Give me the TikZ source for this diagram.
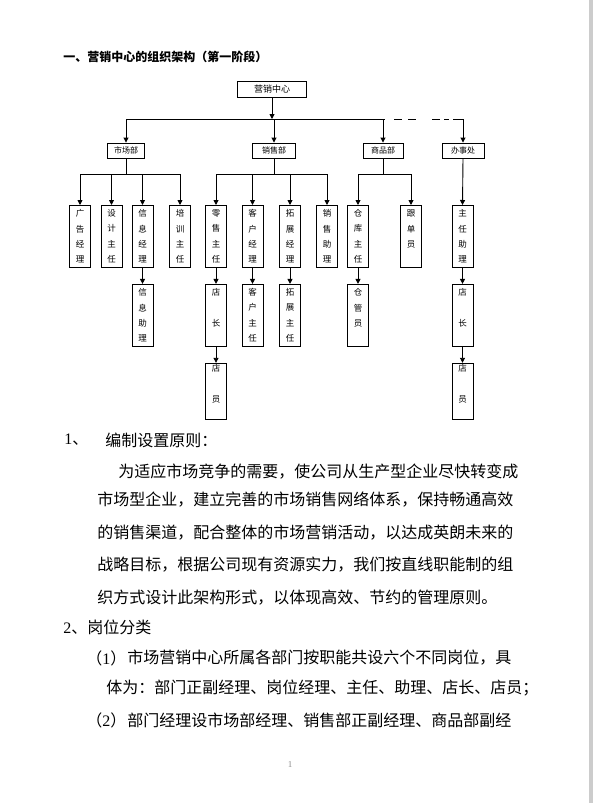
\documentclass[tikz,border=0pt]{standalone}
\usepackage{fontspec}
\setmainfont{Liberation Serif}
\newfontfamily\cjk{Noto Sans CJK SC}
\usetikzlibrary{arrows.meta, positioning}

\begin{document}
\begin{tikzpicture}[
        x=1pt, y=-1pt,
        line width=0.9pt,
        >={Triangle[length=5pt, width=5pt]},
        head/.style={rectangle, draw, minimum width=69pt, minimum height=16pt, inner sep=1pt, font=\cjk\fontsize{9}{10}\selectfont},
        dept/.style={rectangle, draw, minimum height=15pt, inner sep=1pt, font=\cjk\fontsize{8}{9}\selectfont},
        post/.style={rectangle, draw, anchor=north, minimum width=21pt, minimum height=62pt, inner sep=1pt, align=center, font=\cjk\fontsize{8.5}{15.4}\selectfont},
        shop/.style={post, minimum height=56pt},
        bodytext/.style={anchor=west, inner sep=0pt, font=\cjk\fontsize{16}{16}\selectfont}
    ]
    \useasboundingbox (0,0) rectangle (593,803);
    \fill[black!20] (589,0) rectangle (593,803);

    % Title
    \node[anchor=west, inner sep=0pt, font=\cjk\bfseries\fontsize{12}{12}\selectfont] (title) at (63,57) {一、营销中心的组织架构（第一阶段）};

    % Top and departments
    \node[head] (hub) at (272,89) {营销中心};
    \node[dept, minimum width=37pt] (mkt) at (126,150.5) {市场部};
    \node[dept, minimum width=43pt] (sales) at (274,150.5) {销售部};
    \node[dept, minimum width=40pt] (goods) at (383,150.5) {商品部};
    \node[dept, minimum width=42pt] (office) at (463,150.5) {办事处};

    \coordinate (bus) at (0,119);
    \coordinate (fork) at (0,174);

    \draw[->] (hub.south) -- (hub.south |- bus);
    \draw (mkt.north |- bus) -- (goods.north |- bus);
    \draw[dash pattern=on 2pt off 9pt on 8pt off 6pt on 8pt off 16pt on 8pt off 4pt on 5pt off 4pt on 12pt off 1pt] (goods.north |- bus) -- (office.north |- bus);
    \foreach \d in {mkt, sales, goods, office}
        \draw[->] (\d.north |- bus) -- (\d.north);

    % Posts
    \node[post] (ad) at (80,205) {广\\告\\经\\理};
    \node[post] (design) at (111.5,205) {设\\计\\主\\任};
    \node[post] (info) at (142.5,205) {信\\息\\经\\理};
    \node[post] (train) at (180,205) {培\\训\\主\\任};
    \node[post] (retail) at (216,205) {零\\售\\主\\任};
    \node[post] (client) at (252.5,205) {客\\户\\经\\理};
    \node[post] (expand) at (290,205) {拓\\展\\经\\理};
    \node[post] (salesaide) at (327,205) {销\\售\\助\\理};
    \node[post] (depot) at (358,205) {仓\\库\\主\\任};
    \node[post] (tracker) at (411,205) {跟\\单\\员\\~};
    \node[post] (aide) at (462.5,205) {主\\任\\助\\理};

    \node[post, below=16pt of info] (infoaide) {信\\息\\助\\理};
    \node[post, below=16pt of retail] (shopA) {店\\~\\长\\~};
    \node[post, below=16pt of client] (clientlead) {客\\户\\主\\任};
    \node[post, below=16pt of expand] (expandlead) {拓\\展\\主\\任};
    \node[post, below=16pt of depot] (keeper) {仓\\管\\员\\~};
    \node[post, below=16pt of aide] (shopB) {店\\~\\长\\~};

    \node[shop, below=16pt of shopA] (clerkA) {店\\~\\员\\~};
    \node[shop, below=16pt of shopB] (clerkB) {店\\~\\员\\~};

    % Branches
    \draw (mkt.south) -- (mkt.south |- fork);
    \draw (ad.north |- fork) -- (train.north |- fork);
    \foreach \c in {ad, design, info, train}
        \draw[->] (\c.north |- fork) -- (\c.north);

    \draw (sales.south) -- (sales.south |- fork);
    \draw (retail.north |- fork) -- (salesaide.north |- fork);
    \foreach \c in {retail, client, expand, salesaide}
        \draw[->] (\c.north |- fork) -- (\c.north);

    \draw (goods.south) -- (goods.south |- fork);
    \draw (depot.north |- fork) -- (tracker.north |- fork);
    \foreach \c in {depot, tracker}
        \draw[->] (\c.north |- fork) -- (\c.north);

    \draw[->] (office.south) -- (aide.north);

    \draw[->] (info.south) -- (infoaide.north);
    \draw[->] (retail.south) -- (shopA.north);
    \draw[->] (client.south) -- (clientlead.north);
    \draw[->] (expand.south) -- (expandlead.north);
    \draw[->] (depot.south) -- (keeper.north);
    \draw[->] (aide.south) -- (shopB.north);
    \draw[->] (shopA.south) -- (clerkA.north);
    \draw[->] (shopB.south) -- (clerkB.north);

    % Text
    \node[bodytext, font=\fontsize{16}{16}\selectfont] (num1) at (64,440) {1{\cjk 、}};
    \node[bodytext] (head1) at (105,440) {编制设置原则：};
    \node[bodytext] (para1) at (118,472) {为适应市场竞争的需要，使公司从生产型企业尽快转变成};
    \node[bodytext] (para2) at (97,500) {市场型企业，建立完善的市场销售网络体系，保持畅通高效};
    \node[bodytext] (para3) at (97,533) {的销售渠道，配合整体的市场营销活动，以达成英朗未来的};
    \node[bodytext] (para4) at (97,565) {战略目标，根据公司现有资源实力，我们按直线职能制的组};
    \node[bodytext] (para5) at (97,598) {织方式设计此架构形式，以体现高效、节约的管理原则。};

    \node[bodytext, font=\fontsize{16}{16}\selectfont] (head2) at (63,627) {2{\cjk 、岗位分类}};
    \node[bodytext, font=\fontsize{16}{16}\selectfont] (num21) at (86,658) {{\cjk （}1{\cjk ）}};
    \node[bodytext] (item1a) at (127,658) {市场营销中心所属各部门按职能共设六个不同岗位，具};
    \node[bodytext] (item1b) at (106,688) {体为：部门正副经理、岗位经理、主任、助理、店长、店员；};
    \node[bodytext, font=\fontsize{16}{16}\selectfont] (num22) at (86,720) {{\cjk （}2{\cjk ）}};
    \node[bodytext] (item2a) at (127,720) {部门经理设市场部经理、销售部正副经理、商品部副经};

    \node[font=\fontsize{9}{9}\selectfont, text=black!45] (pageno) at (290,765) {1};
\end{tikzpicture}
\end{document}
